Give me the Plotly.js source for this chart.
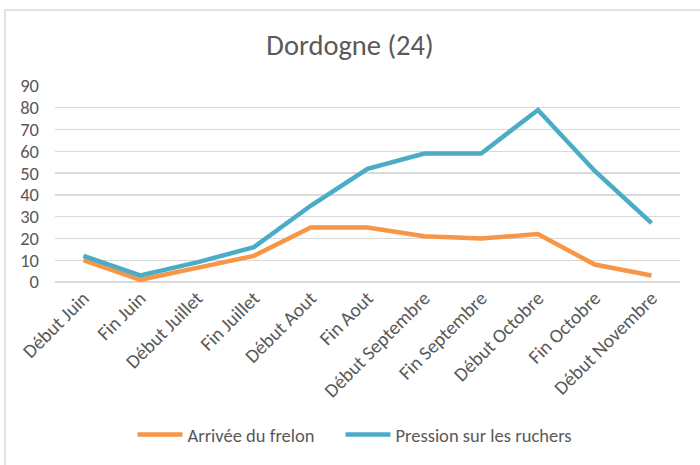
<!DOCTYPE html>
<html>
<head>
<meta charset="utf-8">
<script src="https://cdn.plot.ly/plotly-3.0.1.min.js"></script>
<style>html,body{margin:0;padding:0;background:#fff;}#chart{width:700px;height:465px;}</style>
</head>
<body>
<div id="chart"></div>
<script>
const categories = ["Début Juin","Fin Juin","Début Juillet","Fin Juillet","Début Aout","Fin Aout","Début Septembre","Fin Septembre","Début Octobre","Fin Octobre","Début Novembre"];
const arrivee = [10, 1, 6.5, 12, 25, 25, 21, 20, 22, 8, 3];
const pression = [12, 3, 9, 16, 35, 52, 59, 59, 79, 51, 27];
const yTicks = [0,10,20,30,40,50,60,70,80,90];
const seriesNames = ["Arrivée du frelon", "Pression sur les ruchers"];

const FONT = "Carlito, Calibri, 'Liberation Sans Narrow', 'Open Sans', sans-serif";
const GREY = "#595959";
const PAD = "\u00a0\u00a0\u00a0\u00a0\u00a0";

const traces = [
  {x: categories, y: arrivee, type: "scatter", mode: "lines", name: seriesNames[0] + PAD,
   line: {color: "#F79646", width: 4.5, shape: "linear"}},
  {x: categories, y: pression, type: "scatter", mode: "lines", name: seriesNames[1],
   line: {color: "#4BACC6", width: 4.5, shape: "linear"}}
];

const layout = {
  width: 700, height: 465,
  margin: {l: 55, r: 20, t: 86, b: 183, autoexpand: false},
  paper_bgcolor: "#fff", plot_bgcolor: "#fff",
  font: {family: FONT, color: GREY, size: 18.5},
  title: {text: "Dordogne (24)", font: {family: FONT, size: 28.5, color: GREY},
          x: 0.5, xanchor: "center", y: 1 - 45/465, yanchor: "middle", xref: "container"},
  xaxis: {type: "category", range: [-0.5, 10.5], tickangle: -45, showgrid: false,
          showline: false, zeroline: false, ticks: "", tickfont: {size: 19.5, color: GREY}},
  yaxis: {range: [0, 90], tickvals: yTicks, ticktext: yTicks.map(String), showgrid: true,
          gridcolor: "#d9d9d9", gridwidth: 1.3, zeroline: true, zerolinecolor: "#d9d9d9",
          zerolinewidth: 1.3, showline: false, ticks: "", ticklabelstandoff: 15,
          tickfont: {size: 18.5, color: GREY}},
  showlegend: true,
  legend: {orientation: "h", x: 0.48, xanchor: "center", y: -0.78, yanchor: "middle",
           font: {size: 18.5, color: GREY}, itemwidth: 45, tracegroupgap: 0},
  shapes: [{type: "rect", xref: "paper", yref: "paper", x0: -0.08, x1: 1.2, y0: -1.2, y1: 1.388,
            line: {color: "#d9d9d9", width: 1.5}, fillcolor: "rgba(0,0,0,0)", layer: "below"}]
};

Plotly.newPlot("chart", traces, layout, {displayModeBar: false, staticPlot: true});
</script>
</body>
</html>
